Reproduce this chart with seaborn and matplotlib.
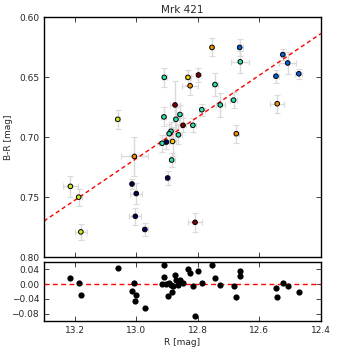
import matplotlib
matplotlib.use('Agg')
import matplotlib.pyplot as plt
import numpy as np
import pandas as pd
import seaborn as sns

# R magnitude, B-R colour and errors
r_mag = [12.754, 12.664, 12.524, 12.662, 12.508, 12.472, 12.546, 12.909, 12.832, 12.798,
         12.825, 12.744, 12.684, 12.542, 12.727, 12.874, 12.787, 13.060, 12.910, 12.871,
         12.858, 12.848, 12.816, 12.675, 12.887, 12.893, 12.863, 12.882, 12.902, 12.916,
         13.006, 12.885, 12.898, 13.014, 13.214, 13.187, 13.000, 13.003, 12.809, 12.972,
         13.180]
b_r = [0.625, 0.625, 0.631, 0.637, 0.638, 0.647, 0.649, 0.650, 0.650, 0.648,
       0.657, 0.656, 0.669, 0.672, 0.673, 0.673, 0.677, 0.685, 0.683, 0.685,
       0.681, 0.690, 0.690, 0.697, 0.695, 0.697, 0.698, 0.7035, 0.704, 0.705,
       0.716, 0.719, 0.734, 0.739, 0.741, 0.750, 0.747, 0.766, 0.771, 0.777,
       0.779]
r_err = [0.006, 0.010, 0.007, 0.029, 0.027, 0.011, 0.011, 0.008, 0.010, 0.008,
         0.027, 0.010, 0.010, 0.023, 0.015, 0.016, 0.010, 0.008, 0.008, 0.010,
         0.010, 0.010, 0.010, 0.008, 0.010, 0.010, 0.010, 0.010, 0.008, 0.010,
         0.043, 0.010, 0.008, 0.006, 0.025, 0.010, 0.019, 0.020, 0.022, 0.010,
         0.019]
br_err = [0.0075, 0.007, 0.0046, 0.009, 0.009, 0.004, 0.0055, 0.008, 0.006, 0.0055,
          0.008, 0.0097, 0.0065, 0.0076, 0.010, 0.020, 0.005, 0.008, 0.008, 0.010,
          0.008, 0.006, 0.006, 0.0076, 0.008, 0.008, 0.008, 0.012, 0.006, 0.007,
          0.016, 0.006, 0.006, 0.004, 0.009, 0.007, 0.009, 0.007, 0.008, 0.0055,
          0.007]
group = ['orange', 'blue', 'blue', 'teal', 'blue', 'blue', 'blue', 'teal', 'yellow', 'darkred',
         'orange', 'teal', 'teal', 'orange', 'teal', 'darkred', 'teal', 'yellowgreen', 'teal', 'teal',
         'teal', 'darkred', 'teal', 'orange', 'teal', 'teal', 'teal', 'yellow', 'navy', 'teal',
         'orange', 'teal', 'navy', 'navy', 'yellowgreen', 'yellowgreen', 'navy', 'navy', 'darkred', 'navy',
         'yellowgreen']
# residuals (fit - data) from the lower panel
resid = [0.051, 0.035, 0.0035, 0.022, -0.005, -0.021, -0.010, 0.053, 0.040, 0.035,
         0.031, 0.018, -0.005, -0.035, -0.003, 0.024, 0.004, 0.044, 0.020, 0.011,
         0.011, 0.003, -0.004, -0.036, -0.003, 0.003, -0.003, -0.005, -0.001, -0.001,
         0.0035, -0.021, -0.033, -0.018, 0.016, 0.002, -0.029, -0.047, -0.086, -0.064,
         -0.029]

# dashed fit line end points
fit_r = [13.3, 12.4]
fit_br = [0.770, 0.6134]

palette = {'navy': '#00005a', 'blue': '#0060e0', 'teal': '#30e0b0', 'yellowgreen': '#c8f020',
           'yellow': '#f0d000', 'orange': '#f09000', 'darkred': '#800000'}

df = pd.DataFrame({'R': r_mag, 'BR': b_r, 'eR': r_err, 'eBR': br_err,
                   'group': group, 'resid': resid})

sns.set_style('ticks')
plt.rcParams['font.family'] = ['DejaVu Sans']
plt.rcParams['xtick.direction'] = 'in'
plt.rcParams['ytick.direction'] = 'in'
plt.rcParams['xtick.top'] = True
plt.rcParams['ytick.right'] = True
plt.rcParams['xtick.major.size'] = 3.5
plt.rcParams['ytick.major.size'] = 3.5

fig = plt.figure(figsize=(3.57, 3.57), dpi=100)
ax = fig.add_axes([0.123, 0.280, 0.776, 0.671])
ax2 = fig.add_axes([0.123, 0.101, 0.776, 0.165])

ax.errorbar(df['R'], df['BR'], xerr=df['eR'], yerr=df['eBR'], fmt='none',
            ecolor='#dadada', elinewidth=1.0, capsize=2, capthick=0.8, zorder=1)
sns.scatterplot(data=df, x='R', y='BR', hue='group', palette=palette, ax=ax,
                s=11, edgecolor='black', linewidth=0.7, legend=False, zorder=3)
ax.plot(fit_r, fit_br, color='red', linestyle='--', dashes=(3, 2.2), linewidth=1.0, zorder=2)

ax.set_xlim(13.3, 12.4)
ax.set_ylim(0.80, 0.60)
ax.set_yticks([0.60, 0.65, 0.70, 0.75, 0.80])
ax.set_xticks([13.2, 13.0, 12.8, 12.6, 12.4])
ax.set_xticklabels([])
ax.set_xlabel('')
ax.set_ylabel('B-R [mag]', fontsize=6.5)
ax.set_title('Mrk 421', fontsize=7.5, pad=3)
ax.tick_params(labelsize=6.5, width=0.6)

sns.scatterplot(data=df, x='R', y='resid', color='black', ax=ax2, s=20,
                edgecolor='black', linewidth=0, legend=False, zorder=3)
ax2.axhline(0, color='red', linestyle='--', dashes=(3.5, 2.5), linewidth=1.0, zorder=2)
ax2.set_xlim(13.3, 12.4)
ax2.set_ylim(-0.10, 0.06)
ax2.set_yticks([0.04, 0.00, -0.04, -0.08])
ax2.set_yticklabels(['0.04', '0.00', '\u22120.04', '\u22120.08'])
ax2.set_xticks([13.2, 13.0, 12.8, 12.6, 12.4])
ax2.set_xlabel('R [mag]', fontsize=6.5, labelpad=2)
ax2.set_ylabel('')
ax2.tick_params(labelsize=6.5, width=0.6)

for a in (ax, ax2):
    for sp in a.spines.values():
        sp.set_linewidth(1.0)
        sp.set_color('black')

fig.savefig('out.png', dpi=100)
